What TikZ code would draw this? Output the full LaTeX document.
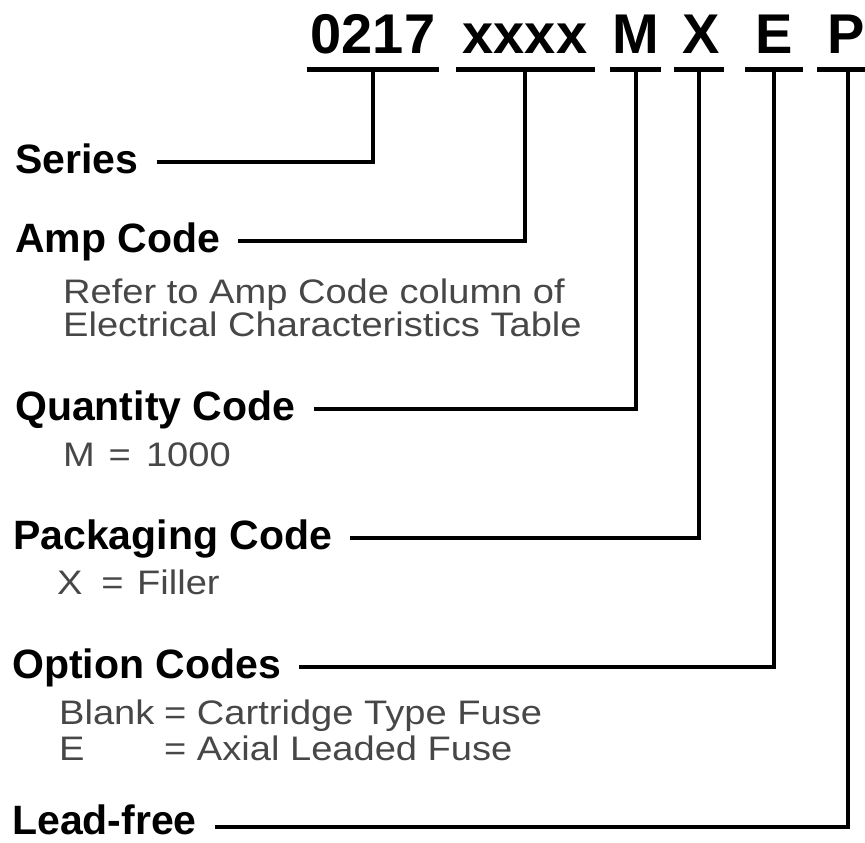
\documentclass[tikz,border=0pt]{standalone}
\usepackage{fontspec}
\setmainfont{Liberation Sans}
\newfontfamily\notefont[FakeStretch=1.12]{Liberation Sans}

\tikzset{
    code/.style={font=\bfseries\fontsize{56}{64}\selectfont, inner sep=0pt, anchor=base},
    field/.style={font=\bfseries\fontsize{41}{48}\selectfont, inner sep=0pt, anchor=base west},
    note/.style={font=\notefont\fontsize{34}{40}\selectfont, text=black!72, inner sep=0pt, anchor=base west},
    bar/.style={line width=5pt},
    lead/.style={line width=3.5pt},
}

\begin{document}
\begin{tikzpicture}[x=1pt, y=-1pt]
    \useasboundingbox (0, 0) rectangle (865, 843);
    % part number
    \node[code] (c0217) at (373, 54) {0217};
    \node[code] (cxxxx) at (525, 54) {xxxx};
    \node[code] (cm) at (636, 54) {M};
    \node[code] (cx) at (701, 54) {X};
    \node[code] (ce) at (774, 54) {E};
    \node[code] (cp) at (846, 54) {P};
    \draw[bar] (307, 70) -- (439, 70);
    \draw[bar] (456, 70) -- (595, 70);
    \draw[bar] (610, 70) -- (661, 70);
    \draw[bar] (674, 70) -- (724, 70);
    \draw[bar] (745, 70) -- (803, 70);
    \draw[bar] (817, 70) -- (865, 70);
    \coordinate (t0217) at (373, 70);
    \coordinate (txxxx) at (525, 70);
    \coordinate (tm) at (636, 70);
    \coordinate (tx) at (699, 70);
    \coordinate (te) at (774, 70);
    \coordinate (tp) at (848, 70);
    % fields
    \node[field] (series) at (15, 173) {Series};
    \node[field] (amp) at (15, 252) {Amp Code};
    \node[note] (amp1) at (63, 303) {Refer to Amp Code column of};
    \node[note] (amp2) at (63, 336) {Electrical Characteristics Table};
    \node[field] (qty) at (15, 420) {Quantity Code};
    \node[note] (qty1) at (63, 466) {M\hspace{0.4em}=\hspace{0.45em}1000};
    \node[field] (pack) at (13, 549) {Packaging Code};
    \node[note] (pack1) at (57, 594) {X\hspace{0.55em}=\hspace{0.4em}Filler};
    \node[field] (opt) at (12, 678) {Option Codes};
    \node[note] (blank) at (59, 724) {Blank};
    \node[note] (blankdef) at (164, 724) {= Cartridge Type Fuse};
    \node[note] (eopt) at (59, 760) {E};
    \node[note] (eoptdef) at (164, 760) {= Axial Leaded Fuse};
    \node[field] (free) at (12, 834) {Lead-free};
    % leads
    \draw[lead] ([xshift=18pt, yshift=11pt]series.base east) -| (t0217);
    \draw[lead] ([xshift=18pt, yshift=11pt]amp.base east) -| (txxxx);
    \draw[lead] ([xshift=18pt, yshift=11pt]qty.base east) -| (tm);
    \draw[lead] ([xshift=18pt, yshift=11pt]pack.base east) -| (tx);
    \draw[lead] ([xshift=18pt, yshift=11pt]opt.base east) -| (te);
    \draw[lead] ([xshift=18pt, yshift=7pt]free.base east) -| (tp);
\end{tikzpicture}
\end{document}
